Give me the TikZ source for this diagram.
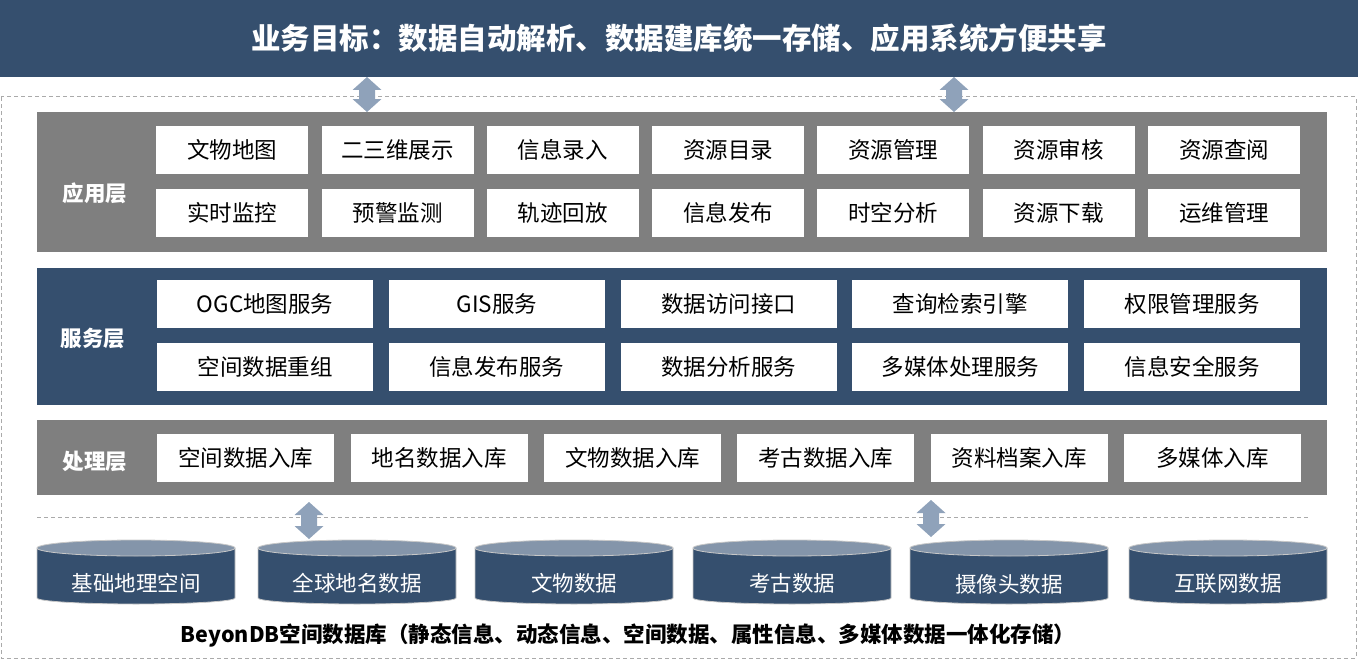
\documentclass[tikz,border=0pt]{standalone}
\usepackage{fontspec}
\setmainfont{Noto Sans CJK SC}
\definecolor{navy}{RGB}{53,79,110}
\definecolor{panelgray}{RGB}{127,127,127}
\definecolor{arrowblue}{RGB}{143,162,186}
\definecolor{cyltop}{RGB}{132,149,170}
\definecolor{dashgray}{RGB}{170,170,170}
\definecolor{cylline}{RGB}{200,200,200}
\newcommand{\blockarrow}[3]{%
  \fill[arrowblue] (#1,#2) -- (#1+14.5,#2+13) -- (#1+8,#2+13) -- (#1+8,#3-13) -- (#1+14.5,#3-13)
    -- (#1,#3) -- (#1-14.5,#3-13) -- (#1-8,#3-13) -- (#1-8,#2+13) -- (#1-14.5,#2+13) -- cycle;}
\newcommand{\dbcyl}[4]{%
  \filldraw[fill=navy, draw=cylline, line width=0.8pt] (#1,548) -- (#1,598)
     arc[start angle=180, end angle=0, x radius=99, y radius=6] -- (#1+198,548) -- cycle;
  \filldraw[fill=cyltop, draw=cylline, line width=0.8pt] (#1+99,548) ellipse[x radius=99, y radius=8];
  \node[cyltext] (#2) at (#1+99,#3) {#4};}
\begin{document}
\begin{tikzpicture}[x=1pt,y=-1pt,
  box/.style={fill=white, minimum height=48pt, inner sep=0pt, anchor=north west,
    font=\fontsize{22.5}{26}\selectfont, text=black},
  panel/.style={anchor=north west, inner sep=0pt, minimum width=1290pt},
  layerlabel/.style={text=white, font=\bfseries\fontsize{21.5}{24}\selectfont, inner sep=0pt},
  cyltext/.style={text=white, font=\fontsize{21.5}{24}\selectfont, inner sep=0pt},
  dashedline/.style={draw=dashgray, line width=1pt, dash pattern=on 4pt off 3pt}]
\useasboundingbox (0,0) rectangle (1358,661);
% outer dashed frame
\draw[dashedline] (1,97) rectangle (1356,658);
% title banner
\node[fill=navy, anchor=north west, inner sep=0pt, minimum width=1358pt, minimum height=77pt,
  text=white, font=\bfseries\fontsize{29.5}{34}\selectfont] (title) at (0,0)
  {业务目标：数据自动解析、数据建库统一存储、应用系统方便共享};
% application layer
\node[panel, fill=panelgray, minimum height=140pt] (app) at (37,112) {};
\node[layerlabel] (applbl) at (95,193) {应用层};
\foreach \t [count=\i from 0] in {文物地图,二三维展示,信息录入,资源目录,资源管理,资源审核,资源查阅}
  \node[box, minimum width=152pt] (a1-\i) at ({156+165.3*\i},126) {\t};
\foreach \t [count=\i from 0] in {实时监控,预警监测,轨迹回放,信息发布,时空分析,资源下载,运维管理}
  \node[box, minimum width=152pt] (a2-\i) at ({156+165.3*\i},189) {\t};
% service layer
\node[panel, fill=navy, minimum height=137pt] (svc) at (37,268) {};
\node[layerlabel] (svclbl) at (93,338) {服务层};
\foreach \t [count=\i from 0] in {OGC地图服务,GIS服务,数据访问接口,查询检索引擎,权限管理服务}
  \node[box, minimum width=216pt] (s1-\i) at ({157+231.75*\i},280) {\t};
\foreach \t [count=\i from 0] in {空间数据重组,信息发布服务,数据分析服务,多媒体处理服务,信息安全服务}
  \node[box, minimum width=216pt] (s2-\i) at ({157+231.75*\i},343) {\t};
% processing layer
\node[panel, fill=panelgray, minimum height=75pt] (proc) at (37,420) {};
\node[layerlabel] (proclbl) at (95,461) {处理层};
\foreach \t [count=\i from 0] in {空间数据入库,地名数据入库,文物数据入库,考古数据入库,资料档案入库,多媒体入库}
  \node[box, minimum width=177pt] (p-\i) at ({157+193.4*\i},434) {\t};
% inner dashed separator
\coordinate (sepL) at (37,517);
\coordinate (sepR) at (1310,517);
\draw[dashedline] (sepL) -- (sepR);
% databases
\dbcyl{37}{db1}{583}{基础地理空间}
\dbcyl{258}{db2}{583}{全球地名数据}
\dbcyl{475}{db3}{583}{文物数据}
\dbcyl{693}{db4}{583}{考古数据}
\dbcyl{910}{db5}{584}{摄像头数据}
\dbcyl{1129}{db6}{583}{互联网数据}
% block arrows
\blockarrow{367}{77}{112}
\blockarrow{954}{77}{112}
\blockarrow{309}{502}{539}
\blockarrow{931}{500}{537}
% caption
\node[font=\bfseries\fontsize{21.5}{24}\selectfont, inner sep=0pt] (caption) at (628,636)
  {BeyonDB空间数据库（静态信息、动态信息、空间数据、属性信息、多媒体数据一体化存储）};
\end{tikzpicture}
\end{document}
